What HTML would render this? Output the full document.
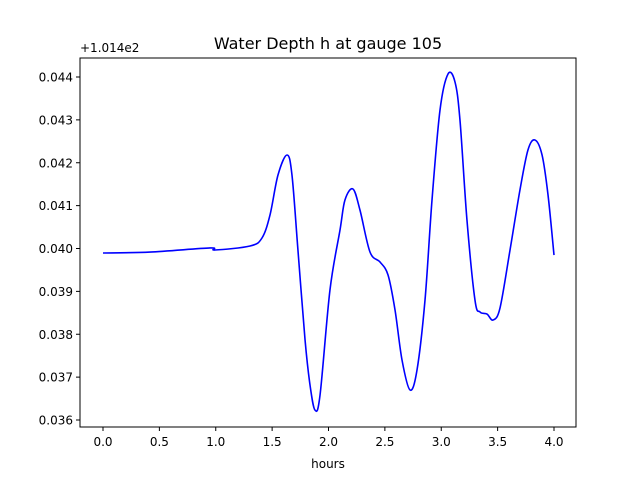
<!DOCTYPE html>
<html><head><meta charset="utf-8"><style>
body{margin:0;background:#fff;}
svg text{font-family:"DejaVu Sans","Liberation Sans",sans-serif;fill:#000;}
</style></head><body>
<svg width="640" height="480" xmlns="http://www.w3.org/2000/svg">
<rect width="640" height="480" fill="#fff"/>
<text x="328" y="49" font-size="16" text-anchor="middle">Water Depth h at gauge 105</text>
<text x="80" y="52" font-size="12">+1.014e2</text>
<text x="328" y="468" font-size="12" text-anchor="middle">hours</text>
<g id="xt"></g>
<g id="yt"></g>
<path id="line" fill="none" stroke="#0000ff" stroke-width="1.6"/>
<rect x="80" y="58" width="496" height="369" fill="none" stroke="#000" stroke-width="1"/>
</svg>
<script>
const hours=[0,0.417,0.949,0.993,1.304,1.410,1.481,1.552,1.632,1.676,1.729,1.792,1.836,1.880,1.925,2.013,2.102,2.146,2.217,2.279,2.368,2.457,2.528,2.590,2.652,2.723,2.785,2.856,2.918,2.989,3.060,3.122,3.166,3.228,3.299,3.344,3.406,3.459,3.521,3.610,3.698,3.769,3.831,3.894,3.947,4.0];
const depthOffset=[3.895,3.918,4.012,3.965,4.058,4.245,4.781,5.714,6.181,5.714,3.965,1.866,0.816,0.233,0.583,3.032,4.431,5.131,5.388,4.898,3.918,3.685,3.382,2.566,1.399,0.700,1.166,2.799,5.131,7.230,8.070,7.883,6.997,4.665,2.799,2.519,2.472,2.332,2.612,3.965,5.364,6.297,6.531,6.181,5.248,3.848];
const values=depthOffset.map(v=>0.036+v/1000);
const xTicks=[0,0.5,1,1.5,2,2.5,3,3.5,4];
const xTickLabels=["0.0","0.5","1.0","1.5","2.0","2.5","3.0","3.5","4.0"];
const yTicks=[0.036,0.037,0.038,0.039,0.040,0.041,0.042,0.043,0.044];
const yTickLabels=["0.036","0.037","0.038","0.039","0.040","0.041","0.042","0.043","0.044"];
const NS="http://www.w3.org/2000/svg";
const X=h=>103+h*112.75;
const Y=v=>420-(v-0.036)*42875;
const xt=document.getElementById('xt'),yt=document.getElementById('yt');
xTicks.forEach((t,i)=>{
 const l=document.createElementNS(NS,'line');
 l.setAttribute('x1',X(t));l.setAttribute('x2',X(t));l.setAttribute('y1',427);l.setAttribute('y2',431);l.setAttribute('stroke','#000');
 
 
 xt.appendChild(l);
 const s=document.createElementNS(NS,'text');
 s.setAttribute('x',X(t));s.setAttribute('y',446);s.setAttribute('font-size','12');s.setAttribute('text-anchor','middle');
 s.textContent=xTickLabels[i];
 
 
 xt.appendChild(s);
});
yTicks.forEach((t,i)=>{
 const l=document.createElementNS(NS,'line');
 l.setAttribute('x1',76);l.setAttribute('x2',80);l.setAttribute('y1',Y(t));l.setAttribute('y2',Y(t));l.setAttribute('stroke','#000');
 
 
 yt.appendChild(l);
 const s=document.createElementNS(NS,'text');
 s.setAttribute('x',73);s.setAttribute('y',Y(t)+4.5);s.setAttribute('font-size','12');s.setAttribute('text-anchor','end');
 s.textContent=yTickLabels[i];
 
 
 yt.appendChild(s);
});
const P=hours.map((h,i)=>[X(h),Y(values[i])]);
let d='M'+P[0][0]+','+P[0][1];
for(let i=0;i<P.length-1;i++){
 const p0=P[Math.max(0,i-1)],p1=P[i],p2=P[i+1],p3=P[Math.min(P.length-1,i+2)];
 const c1=[p1[0]+(p2[0]-p0[0])/6,p1[1]+(p2[1]-p0[1])/6];
 const c2=[p2[0]-(p3[0]-p1[0])/6,p2[1]-(p3[1]-p1[1])/6];
 d+=' C'+c1[0]+','+c1[1]+' '+c2[0]+','+c2[1]+' '+p2[0]+','+p2[1];
}
document.getElementById('line').setAttribute('d',d);
</script>
</body></html>
